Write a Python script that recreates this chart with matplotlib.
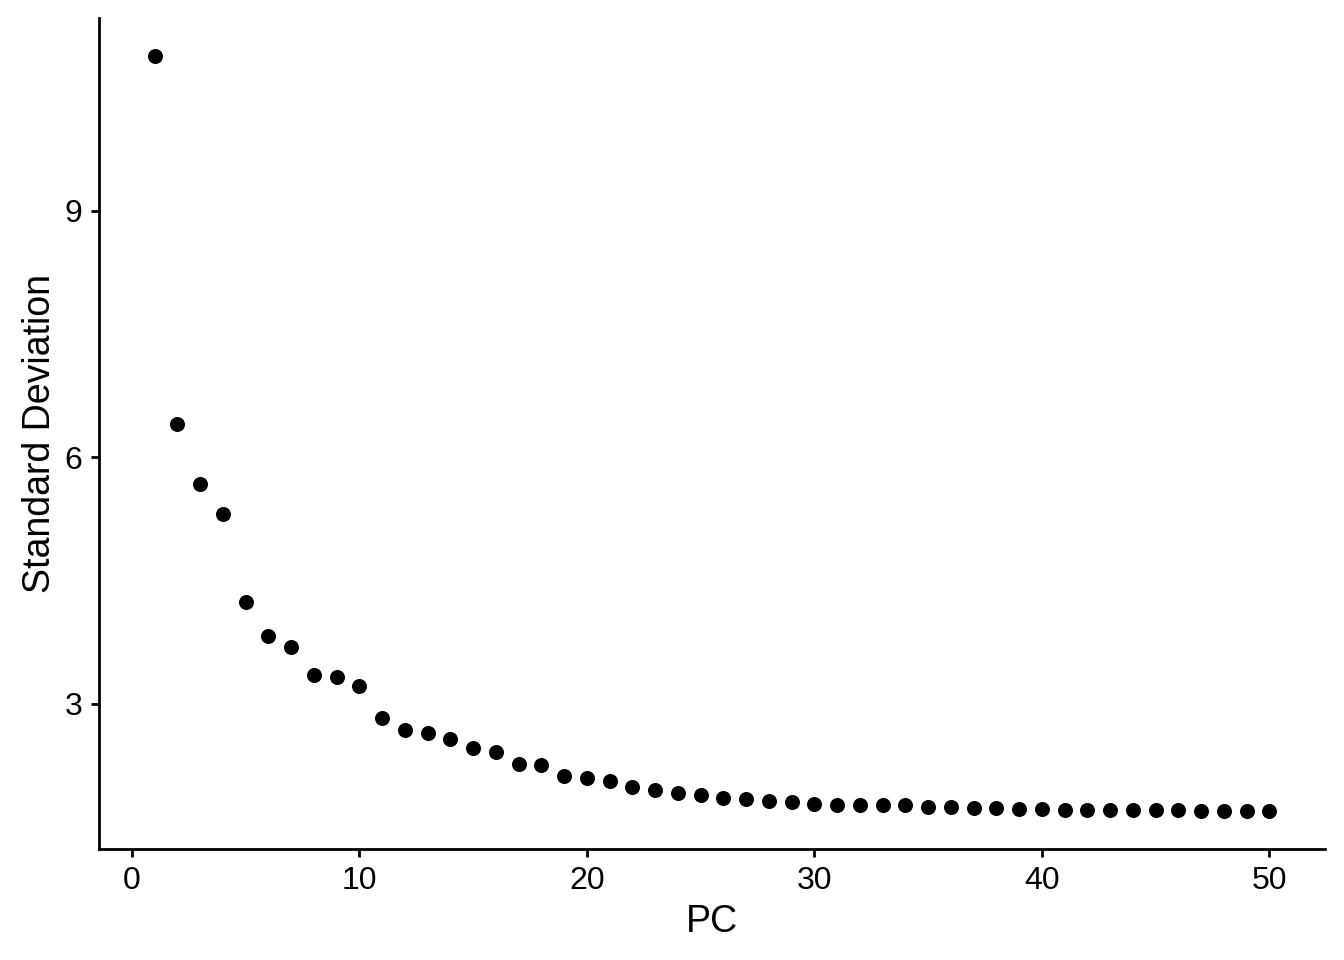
import matplotlib
matplotlib.use("Agg")
import matplotlib.pyplot as plt

plt.rcParams["font.family"] = ["Liberation Sans", "DejaVu Sans"]

# principal components and their standard deviations
pcs = list(range(1, 51))
std_dev = [
    10.89, 6.41, 5.67, 5.31, 4.24, 3.82, 3.69, 3.35, 3.32, 3.21,
    2.83, 2.68, 2.64, 2.57, 2.46, 2.41, 2.27, 2.25, 2.12, 2.10,
    2.06, 1.98, 1.95, 1.91, 1.89, 1.85, 1.84, 1.81, 1.80, 1.78,
    1.77, 1.77, 1.76, 1.76, 1.74, 1.74, 1.73, 1.73, 1.72, 1.72,
    1.71, 1.71, 1.70, 1.70, 1.70, 1.70, 1.69, 1.69, 1.69, 1.69,
]
x_ticks = [0, 10, 20, 30, 40, 50]
y_ticks = [3, 6, 9]

fig = plt.figure(figsize=(13.44, 9.6), dpi=100)
ax = fig.add_axes([99 / 1344, 111 / 960, 1226 / 1344, 831 / 960])

ax.scatter(pcs, std_dev, s=117, color="black", linewidths=0, zorder=3)

# ggplot-style 5% expansion
xr = max(pcs) - min(pcs)
yr = max(std_dev) - min(std_dev)
ax.set_xlim(min(pcs) - 0.05 * xr, max(pcs) + 0.05 * xr)
ax.set_ylim(min(std_dev) - 0.05 * yr, max(std_dev) + 0.05 * yr)

ax.set_xticks(x_ticks)
ax.set_yticks(y_ticks)
ax.tick_params(axis="both", labelsize=23, length=6, width=2, pad=6, colors="black")

for side in ("top", "right"):
    ax.spines[side].set_visible(False)
for side in ("left", "bottom"):
    ax.spines[side].set_linewidth(2)

ax.set_xlabel("PC", fontsize=27, labelpad=6)
ax.set_ylabel("Standard Deviation", fontsize=27, labelpad=5)

fig.savefig("out.png", dpi=100)
